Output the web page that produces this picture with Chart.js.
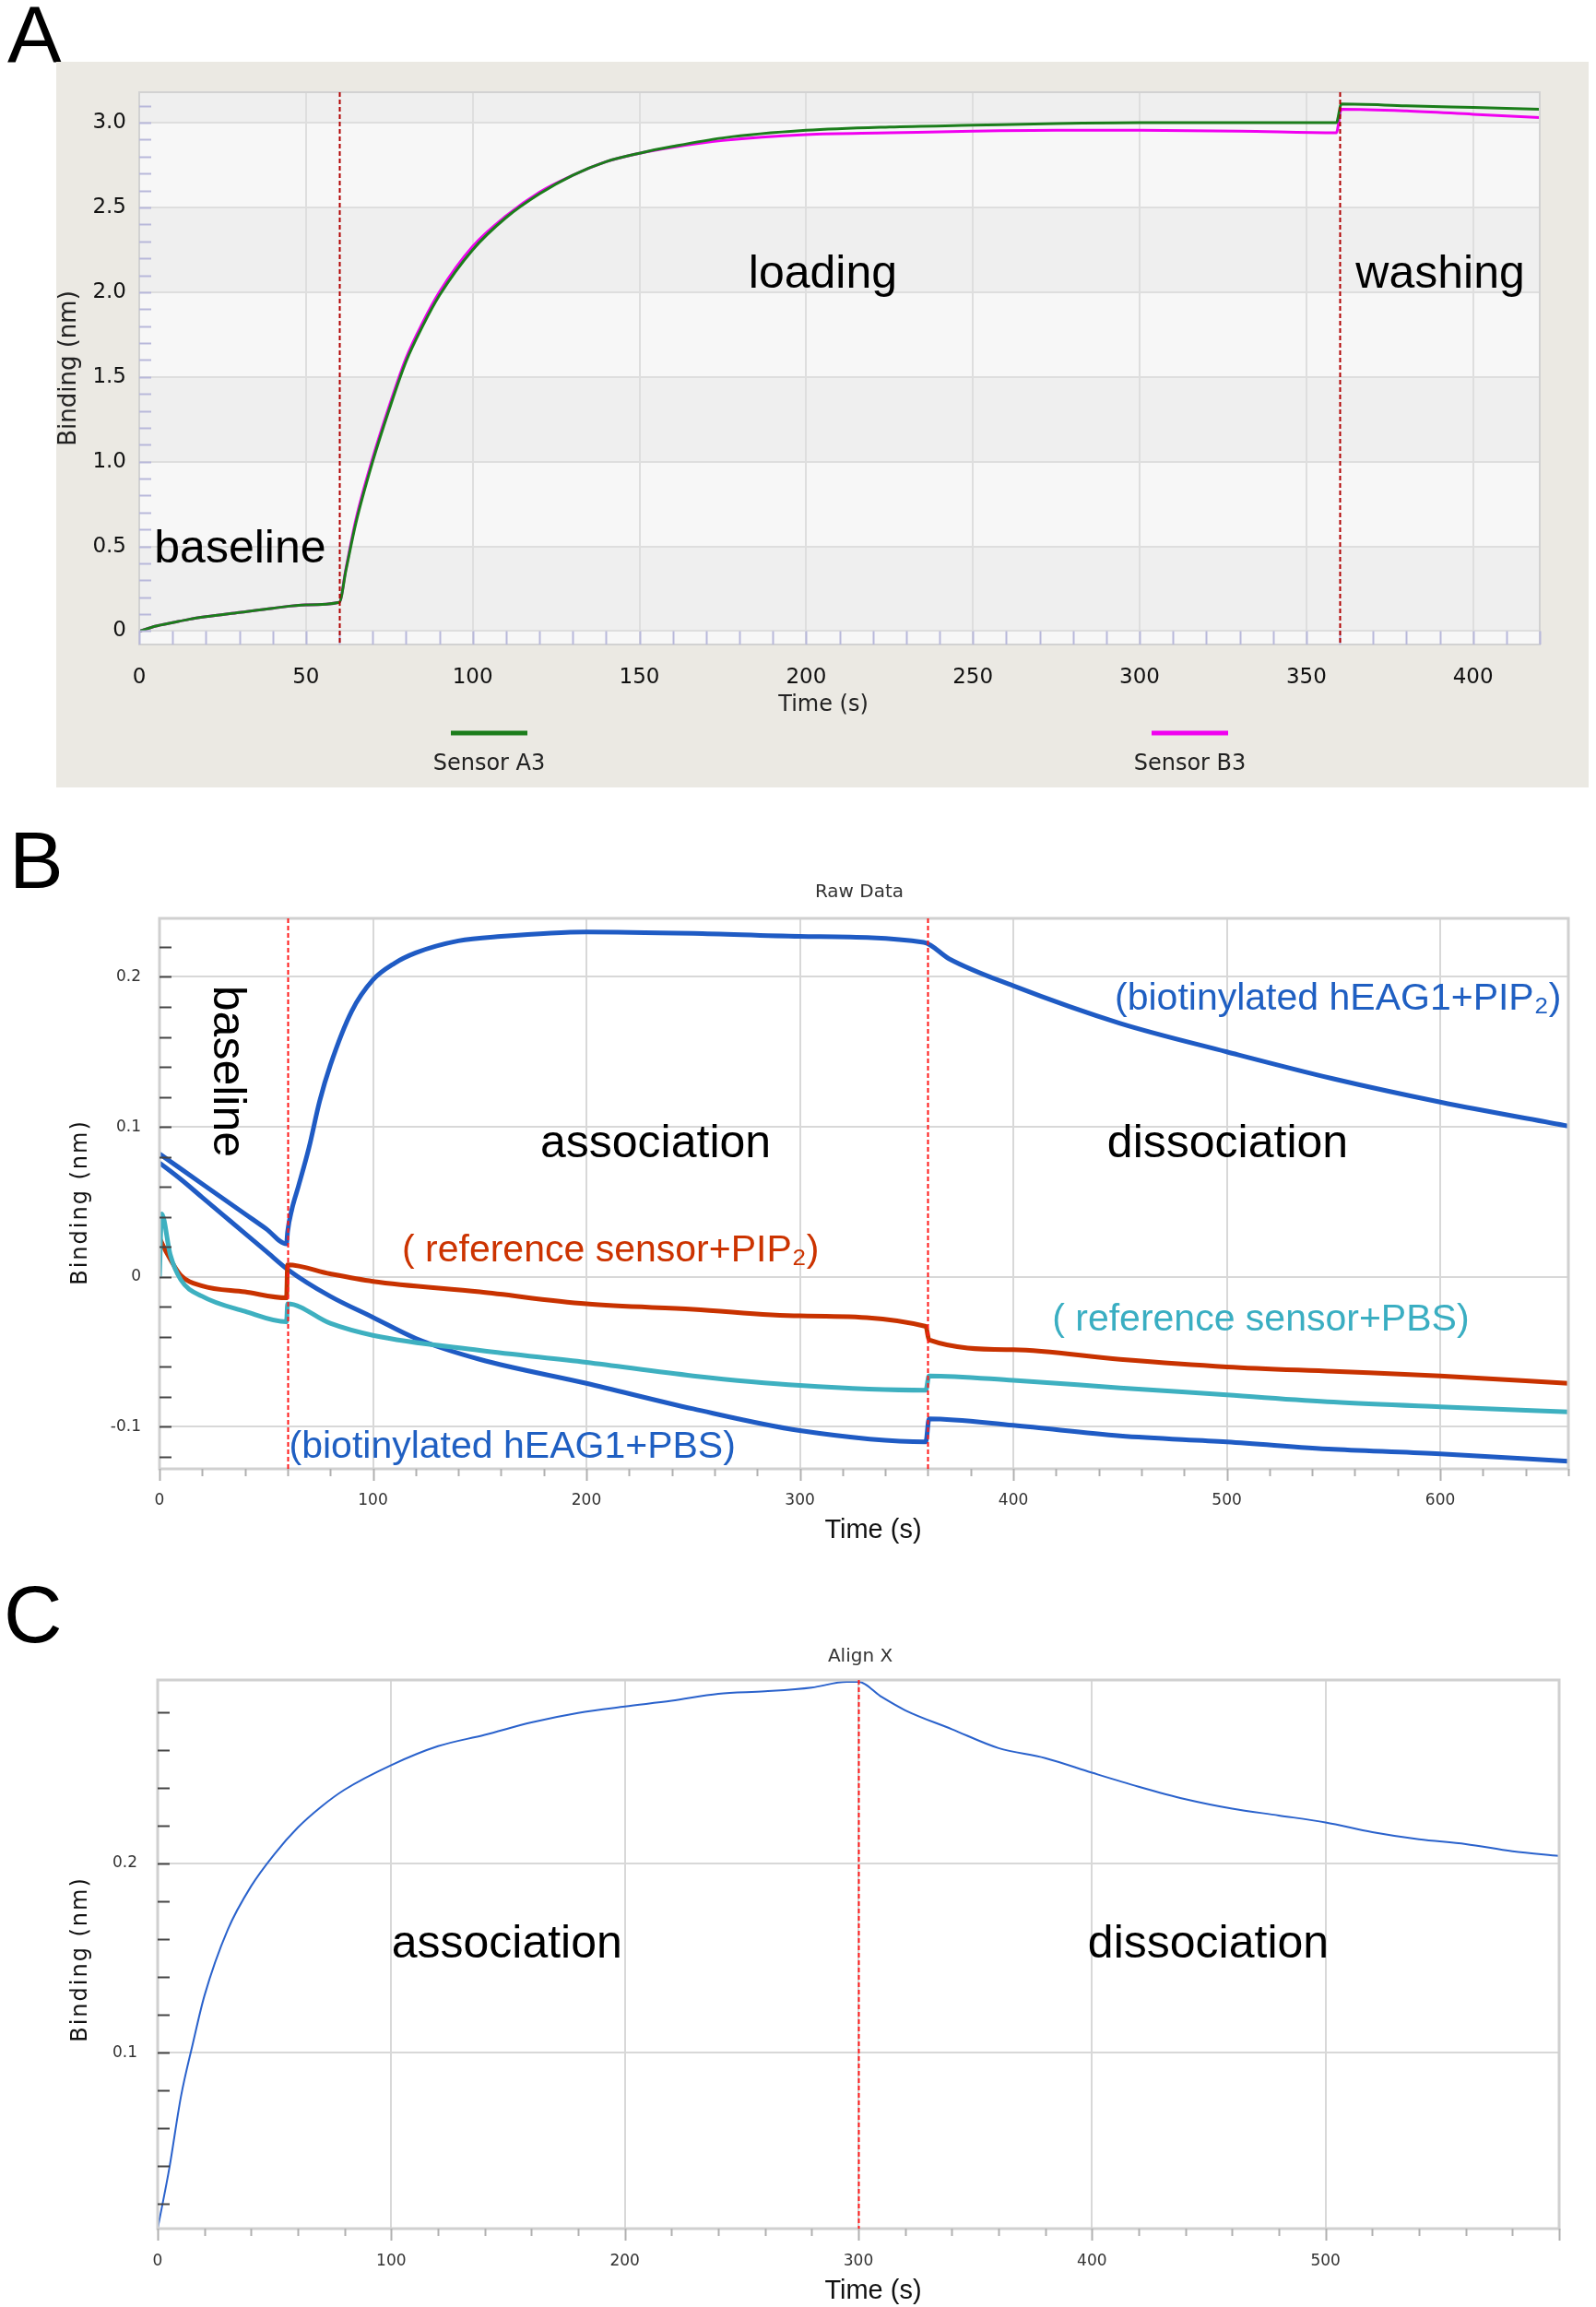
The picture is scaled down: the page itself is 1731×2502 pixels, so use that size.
<!DOCTYPE html>
<html lang="en">
<head>
<meta charset="UTF-8" />
<title>BLI sensorgrams</title>
<script src="https://cdn.jsdelivr.net/npm/chart.js"></script>
<style>
  body { margin: 0; background: #fff; font-family: 'Liberation Sans', Arial, sans-serif; }
  .page { position: relative; width: 1731px; height: 2502px; overflow: hidden; }
  .letter { position: absolute; font-size: 88px; line-height: 1; color: #000; }
  canvas { position: absolute; }
</style>
</head>
<body>
<div class="page">
  <div class="letter" style="left:8px;top:-6px">A</div>
  <div class="letter" style="left:10px;top:889px">B</div>
  <div class="letter" style="left:4px;top:1707px">C</div>
  <canvas id="chartA" width="1662" height="787" style="left:61px;top:67px"></canvas>
  <canvas id="chartB" width="1731" height="720" style="left:0;top:958px"></canvas>
  <canvas id="chartC" width="1731" height="722" style="left:0;top:1780px"></canvas>
</div>

<script>
  // ---- A: loading ----
  const timeA    = [0, 5, 10, 15, 20, 30, 40, 50, 60, 62, 65, 70, 75, 80, 85, 90, 100, 110, 120, 130, 140, 150, 160, 175, 200, 225, 250, 275, 300, 330, 359, 360.5, 380, 400, 420];
  const sensorA3 = [0, 0.03, 0.05, 0.07, 0.085, 0.11, 0.135, 0.155, 0.17, 0.36, 0.64, 1.0, 1.31, 1.59, 1.80, 1.98, 2.25, 2.44, 2.58, 2.69, 2.77, 2.82, 2.86, 2.91, 2.955, 2.975, 2.985, 2.995, 3.0, 3.0, 3.0, 3.11, 3.10, 3.09, 3.08];
  const sensorB3 = [0, 0.03, 0.05, 0.07, 0.085, 0.11, 0.135, 0.155, 0.17, 0.37, 0.66, 1.02, 1.33, 1.61, 1.82, 2.0, 2.27, 2.45, 2.59, 2.69, 2.77, 2.82, 2.855, 2.895, 2.93, 2.94, 2.95, 2.955, 2.955, 2.95, 2.94, 3.08, 3.07, 3.05, 3.03];
  const phasesA  = [60, 360];

  // ---- B: raw data ----
  const timeHeagPip = [0, 10, 20, 30, 40, 50, 59.5, 60, 62, 65, 70, 75, 80, 90, 100, 110, 120, 140, 160, 200, 250, 300, 358, 370, 400, 450, 500, 550, 600, 660];
  const heagPip     = [0.082, 0.072, 0.062, 0.052, 0.042, 0.032, 0.022, 0.030, 0.045, 0.060, 0.086, 0.117, 0.141, 0.177, 0.198, 0.209, 0.216, 0.224, 0.227, 0.230, 0.229, 0.227, 0.223, 0.212, 0.194, 0.169, 0.150, 0.132, 0.1165, 0.1005];
  const timeHeagPbs = [0, 10, 20, 30, 40, 50, 60, 80, 100, 120, 150, 200, 250, 300, 359, 360.5, 400, 450, 500, 550, 600, 660];
  const heagPbs     = [0.076, 0.065, 0.053, 0.041, 0.029, 0.017, 0.005, -0.013, -0.027, -0.041, -0.055, -0.071, -0.088, -0.1025, -0.110, -0.0946, -0.099, -0.106, -0.110, -0.115, -0.118, -0.123];
  const timeRefPip  = [0, 3, 10, 20, 40, 59.5, 60, 80, 100, 150, 200, 250, 300, 359, 360.5, 400, 450, 500, 550, 600, 660];
  const refPip      = [0.026, 0.017, 0.001, -0.006, -0.010, -0.014, 0.008, 0.002, -0.003, -0.010, -0.018, -0.0216, -0.026, -0.033, -0.042, -0.0486, -0.055, -0.060, -0.063, -0.066, -0.071];
  const timeRefPbs  = [0, 1, 5, 10, 20, 40, 59.5, 60, 80, 100, 150, 200, 250, 300, 359, 360.5, 400, 450, 500, 550, 600, 660];
  const refPbs      = [0, 0.042, 0.015, -0.002, -0.013, -0.023, -0.030, -0.018, -0.031, -0.039, -0.049, -0.057, -0.066, -0.0724, -0.0756, -0.066, -0.069, -0.074, -0.0787, -0.0835, -0.0867, -0.090];
  const phasesB     = [60, 360];

  // ---- C: aligned ----
  const timeC  = [0, 5, 10, 15, 20, 30, 40, 50, 60, 70, 80, 100, 120, 140, 160, 180, 200, 220, 240, 260, 280, 295, 300, 310, 320, 340, 360, 380, 400, 420, 440, 460, 480, 500, 520, 540, 560, 580, 600];
  const alignC = [0.007, 0.039, 0.077, 0.1045, 0.13, 0.165, 0.188, 0.205, 0.219, 0.230, 0.239, 0.252, 0.262, 0.268, 0.2746, 0.2796, 0.283, 0.286, 0.2897, 0.291, 0.293, 0.296, 0.296, 0.288, 0.281, 0.271, 0.261, 0.2557, 0.248, 0.2406, 0.234, 0.229, 0.2254, 0.2217, 0.2166, 0.2128, 0.2103, 0.2065, 0.204];
  const phasesC = [300];

  const pts = (xs, ys) => xs.map((x, i) => ({ x: x, y: ys[i] }));

  const ARIAL = '"Liberation Sans", Arial, sans-serif';
  const DEJAVU = '"DejaVu Sans", Verdana, sans-serif';

  // background bands, minor ticks, phase lines, labels
  const decor = {
    id: 'decor',
    beforeDraw(chart, args, o) {
      const { ctx, chartArea: a } = chart;
      const y = chart.scales.y;
      ctx.save();
      if (o.bg) { ctx.fillStyle = o.bg; ctx.fillRect(0, 0, chart.width, chart.height); }
      ctx.fillStyle = o.plotBg || '#fff';
      ctx.fillRect(a.left, a.top, a.width, a.height);
      if (o.bands) {
        const edges = [y.min].concat(y.ticks.map(t => t.value), [y.max]);
        for (let i = 0; i < edges.length - 1; i++) {
          const lo = edges[i];
          if (lo >= 0 && Math.round(lo * 2) % 2 === 0) {
            const top = y.getPixelForValue(edges[i + 1]), bot = y.getPixelForValue(lo);
            ctx.fillStyle = o.bands;
            ctx.fillRect(a.left, top, a.width, bot - top);
          }
        }
      }
      ctx.restore();
    },
    afterDatasetsDraw(chart, args, o) {
      const { ctx, chartArea: a } = chart;
      const x = chart.scales.x, y = chart.scales.y;
      ctx.save();

      // frame
      if (o.frame) {
        ctx.strokeStyle = o.frame.color;
        ctx.lineWidth = o.frame.width;
        ctx.strokeRect(a.left, a.top, a.width, a.height);
      }

      // minor ticks on y
      if (o.yMinor) {
        const m = o.yMinor;
        ctx.strokeStyle = m.color; ctx.lineWidth = 2;
        for (let k = Math.ceil(y.min / m.step - 1e-6); k * m.step <= y.max + 1e-9; k++) {
          const py = Math.round(y.getPixelForValue(k * m.step)) + 0.5;
          ctx.beginPath(); ctx.moveTo(a.left, py); ctx.lineTo(a.left + m.len, py); ctx.stroke();
        }
      }
      // minor ticks on x
      if (o.xMinor) {
        const m = o.xMinor;
        ctx.strokeStyle = m.color; ctx.lineWidth = 2;
        for (let k = Math.ceil(x.min / m.step - 1e-6); k * m.step <= x.max + 1e-9; k++) {
          const v = k * m.step;
          const px = Math.round(x.getPixelForValue(v)) + 0.5;
          let y0, y1;
          if (m.strip) { y0 = y.getPixelForValue(0); y1 = a.bottom; }
          else { y0 = a.bottom; y1 = a.bottom + (Math.abs(v % m.major) < 1e-6 ? m.majorLen : m.len); }
          ctx.beginPath(); ctx.moveTo(px, y0); ctx.lineTo(px, y1); ctx.stroke();
        }
      }

      // phase boundaries
      if (o.phases) {
        ctx.strokeStyle = o.phaseColor; ctx.lineWidth = 2;
        ctx.setLineDash([5, 3]);
        o.phases.forEach(v => {
          const px = Math.round(x.getPixelForValue(v)) + 0.5;
          ctx.beginPath(); ctx.moveTo(px, a.top); ctx.lineTo(px, a.bottom); ctx.stroke();
        });
        ctx.setLineDash([]);
      }

      // notes in data coordinates
      (o.notes || []).forEach(n => {
        ctx.save();
        ctx.font = n.font || ('50px ' + ARIAL);
        ctx.fillStyle = n.color || '#000';
        ctx.textAlign = n.align || 'center';
        ctx.textBaseline = 'middle';
        ctx.translate(x.getPixelForValue(n.x), y.getPixelForValue(n.y));
        if (n.rotate) ctx.rotate(n.rotate);
        ctx.fillText(n.text, 0, 0);
        ctx.restore();
      });

      // titles
      (o.texts || []).forEach(t => {
        ctx.save();
        ctx.font = t.font;
        ctx.fillStyle = t.color || '#222';
        ctx.textAlign = 'center';
        ctx.textBaseline = 'middle';
        if (t.spacing) ctx.letterSpacing = t.spacing;
        const cx = t.px != null ? t.px : (a.left + a.right) / 2;
        const cy = t.py != null ? t.py : (a.top + a.bottom) / 2;
        ctx.translate(cx, cy);
        if (t.rotate) ctx.rotate(t.rotate);
        ctx.fillText(t.text, 0, 0);
        ctx.restore();
      });

      // legend (line above label)
      (o.legend || []).forEach((l, i) => {
        const ds = chart.data.datasets[i];
        ctx.strokeStyle = ds.borderColor; ctx.lineWidth = 5;
        ctx.beginPath(); ctx.moveTo(l.x1, l.y); ctx.lineTo(l.x2, l.y); ctx.stroke();
        ctx.font = '24px ' + DEJAVU; ctx.fillStyle = '#222';
        ctx.textAlign = 'center'; ctx.textBaseline = 'middle';
        ctx.fillText(ds.label, (l.x1 + l.x2) / 2, l.ty);
      });

      ctx.restore();
    }
  };

  function axis(min, max, step, fmt, font, color, pad, size, isX, grid) {
    return {
      type: 'linear', min: min, max: max,
      ticks: { stepSize: step, includeBounds: false, callback: fmt, font: font, color: color, padding: pad, maxRotation: 0, autoSkip: false },
      grid: { color: grid, lineWidth: 2, drawTicks: false },
      border: { display: false },
      afterFit: s => { if (isX) s.height = size; else s.width = size; }
    };
  }
  const fmt1 = v => Math.abs(v) < 1e-9 ? '0' : v.toFixed(1);
  const fmtInt = v => String(Math.round(v));
  // panel C leaves its right-hand end (600) unlabelled
  const fmtC = v => v >= 600 ? '' : String(Math.round(v));

  function line(label, data, color, width) {
    return { label: label, data: data, borderColor: color, backgroundColor: color, borderWidth: width,
             pointRadius: 0, cubicInterpolationMode: 'monotone', fill: false };
  }

  // ---- chart A ----
  new Chart(document.getElementById('chartA'), {
    type: 'line',
    data: {
      datasets: [
        line('Sensor A3', pts(timeA, sensorA3), '#1b7d1b', 3),
        line('Sensor B3', pts(timeA, sensorB3), '#f000f0', 3)
      ]
    },
    options: {
      responsive: false, animation: false,
      layout: { padding: { top: 33, right: 53, left: 0, bottom: 0 } },
      plugins: {
        legend: { display: false }, tooltip: { enabled: false },
        decor: {
          bg: '#ebe9e3', plotBg: '#f7f7f7', bands: '#efefef',
          frame: { color: '#d2d2d2', width: 2 },
          yMinor: { step: 0.1, len: 13, color: '#b8b8da' },
          xMinor: { step: 10, strip: true, color: '#b8b8da' },
          phases: phasesA, phaseColor: '#b00000',
          notes: [
            { text: 'baseline', x: 4.5, y: 0.48, align: 'left' },
            { text: 'loading', x: 205, y: 2.10 },
            { text: 'washing', x: 364.8, y: 2.10, align: 'left' }
          ],
          texts: [
            { text: 'Binding (nm)', px: 14, font: '26px ' + DEJAVU, rotate: -Math.PI / 2 },
            { text: 'Time (s)', px: 832, py: 698, font: '24px ' + DEJAVU }
          ],
          legend: [
            { x1: 428, x2: 511, y: 728, ty: 762 },
            { x1: 1188, x2: 1271, y: 728, ty: 762 }
          ]
        }
      },
      scales: {
        x: axis(0, 420, 50, fmtInt, { family: DEJAVU, size: 23 }, '#111', 22, 155, true, '#dedede'),
        y: axis(-0.079, 3.18, 0.5, fmt1, { family: DEJAVU, size: 23 }, '#111', 14, 90, false, '#dedede')
      }
    },
    plugins: [decor]
  });

  // ---- chart B ----
  new Chart(document.getElementById('chartB'), {
    type: 'line',
    data: {
      datasets: [
        line('reference sensor+PBS', pts(timeRefPbs, refPbs), '#3eb0c0', 5),
        line('reference sensor+PIP2', pts(timeRefPip, refPip), '#c83200', 5),
        line('biotinylated hEAG1+PBS', pts(timeHeagPbs, heagPbs), '#1f5bc4', 5),
        line('biotinylated hEAG1+PIP2', pts(timeHeagPip, heagPip), '#1f5bc4', 5)
      ]
    },
    options: {
      responsive: false, animation: false,
      layout: { padding: { top: 38, right: 30, left: 0, bottom: 0 } },
      plugins: {
        legend: { display: false }, tooltip: { enabled: false },
        decor: {
          frame: { color: '#d0d0d0', width: 3 },
          yMinor: { step: 0.02, len: 13, color: '#444' },
          xMinor: { step: 20, major: 100, len: 8, majorLen: 13, color: '#b0b0b0' },
          phases: phasesB, phaseColor: '#ff1a1a',
          notes: [
            { text: 'baseline', x: 31.4, y: 0.137, rotate: Math.PI / 2 },
            { text: 'association', x: 232.4, y: 0.088 },
            { text: 'dissociation', x: 500.4, y: 0.0885 },
            { text: '(biotinylated hEAG1+PIP₂)', x: 447.5, y: 0.1854, align: 'left', color: '#1f5fc2', font: '41px ' + ARIAL },
            { text: '( reference sensor+PIP₂)', x: 113.6, y: 0.017, align: 'left', color: '#cc3300', font: '41px ' + ARIAL },
            { text: '( reference sensor+PBS)', x: 418.2, y: -0.0287, align: 'left', color: '#3aaec2', font: '41px ' + ARIAL },
            { text: '(biotinylated hEAG1+PBS)', x: 60.7, y: -0.1138, align: 'left', color: '#1f5fc2', font: '41px ' + ARIAL }
          ],
          texts: [
            { text: 'Raw Data', px: 932, py: 10, font: '20px ' + DEJAVU, color: '#333' },
            { text: 'Binding (nm)', px: 88, py: 346, font: '24px ' + DEJAVU, color: '#111', spacing: '2px', rotate: -Math.PI / 2 },
            { text: 'Time (s)', px: 947, py: 702, font: '29px ' + ARIAL, color: '#111' }
          ]
        }
      },
      scales: {
        x: axis(0, 660, 100, fmtInt, { family: DEJAVU, size: 17 }, '#333', 24, 85, true, '#d8d8d8'),
        y: axis(-0.128, 0.239, 0.1, fmt1, { family: DEJAVU, size: 17 }, '#333', 20, 173, false, '#d8d8d8')
      }
    },
    plugins: [decor]
  });

  // ---- chart C ----
  new Chart(document.getElementById('chartC'), {
    type: 'line',
    data: {
      datasets: [ line('Align X', pts(timeC, alignC), '#2a62cc', 2) ]
    },
    options: {
      responsive: false, animation: false,
      layout: { padding: { top: 42, right: 40, left: 0, bottom: 0 } },
      plugins: {
        legend: { display: false }, tooltip: { enabled: false },
        decor: {
          frame: { color: '#d0d0d0', width: 3 },
          yMinor: { step: 0.02, len: 13, color: '#444' },
          xMinor: { step: 20, major: 100, len: 8, majorLen: 13, color: '#b0b0b0' },
          phases: phasesC, phaseColor: '#ff1a1a',
          notes: [
            { text: 'association', x: 149.5, y: 0.157 },
            { text: 'dissociation', x: 449.8, y: 0.157 }
          ],
          texts: [
            { text: 'Align X', px: 933, py: 17, font: '20px ' + DEJAVU, color: '#333' },
            { text: 'Binding (nm)', px: 88, py: 345, font: '24px ' + DEJAVU, color: '#111', spacing: '2px', rotate: -Math.PI / 2 },
            { text: 'Time (s)', px: 947, py: 705, font: '29px ' + ARIAL, color: '#111' }
          ]
        }
      },
      scales: {
        x: axis(0, 600, 100, fmtC, { family: DEJAVU, size: 17 }, '#333', 25, 85, true, '#d8d8d8'),
        y: axis(0.007, 0.297, 0.1, fmt1, { family: DEJAVU, size: 17 }, '#333', 22, 171, false, '#d8d8d8')
      }
    },
    plugins: [decor]
  });
</script>
</body>
</html>
